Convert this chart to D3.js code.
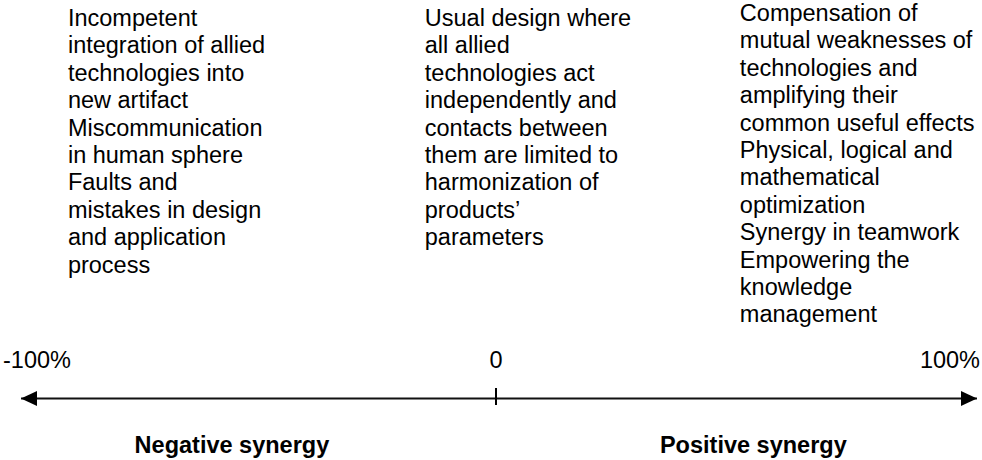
<!DOCTYPE html>
<html>
<head>
<meta charset="utf-8">
<script src="https://cdn.jsdelivr.net/npm/d3@7"></script>
<style>
  body { margin: 0; background: #fff; }
  text { font-family: "Liberation Sans", Arial, sans-serif; fill: #000; }
</style>
</head>
<body>
<div id="diagram"></div>
<script>
// synergy scale, percent
var tickValues = [-100, 0, 100]
var tickLabels = ["-100%", "0", "100%"]

var synergyLabels = ["Negative synergy", "Positive synergy"]
var synergyPos = [-54.9, 53.5]

var blockPos = [-89, -14.8, 50.7]
var blockTop = [26, 26, 21]
var blockLines = [
	["Incompetent", "integration of allied", "technologies into", "new artifact",
	 "Miscommunication", "in human sphere", "Faults and", "mistakes in design",
	 "and application", "process"],
	["Usual design where", "all allied", "technologies act", "independently and",
	 "contacts between", "them are limited to", "harmonization of", "products\u2019",
	 "parameters"],
	["Compensation of", "mutual weaknesses of", "technologies and", "amplifying their",
	 "common useful effects", "Physical, logical and", "mathematical", "optimization",
	 "Synergy in teamwork", "Empowering the", "knowledge", "management"]
]

var width = 982
var height = 460
var axisY = 398.5
var lineHeight = 27.4
var fontSize = "23.5px"

var svg = d3.select("#diagram").append("svg").attr("width", width).attr("height", height)

var x = d3.scaleLinear().domain([-100, 100]).range([15, 977])

// text blocks
blockLines.forEach(function(lines, i){
	var t = svg.append("text")
		.attr("x", x(blockPos[i]))
		.attr("y", blockTop[i])
		.style("font-size", fontSize)
	t.selectAll("tspan").data(lines).enter().append("tspan")
		.attr("x", x(blockPos[i]))
		.attr("dy", function(d, j){ return j == 0 ? 0 : lineHeight })
		.text(function(d){ return d })
})

// arrow heads
var defs = svg.append("defs")
defs.append("marker").attr("id", "arrowEnd")
	.attr("viewBox", "0 0 16 16").attr("refX", 16).attr("refY", 8)
	.attr("markerWidth", 16).attr("markerHeight", 16).attr("markerUnits", "userSpaceOnUse")
	.attr("orient", "auto")
	.append("path").attr("d", "M0,0.5L16,8L0,15.5Z").attr("fill", "#000")
defs.append("marker").attr("id", "arrowStart")
	.attr("viewBox", "0 0 16 16").attr("refX", 0).attr("refY", 8)
	.attr("markerWidth", 16).attr("markerHeight", 16).attr("markerUnits", "userSpaceOnUse")
	.attr("orient", "auto")
	.append("path").attr("d", "M16,0.5L0,8L16,15.5Z").attr("fill", "#000")

svg.append("line")
	.attr("x1", x(-100) + 6).attr("x2", x(100))
	.attr("y1", axisY).attr("y2", axisY)
	.attr("stroke", "#111").attr("stroke-width", 2)
	.attr("marker-start", "url(#arrowStart)")
	.attr("marker-end", "url(#arrowEnd)")

// zero tick
svg.append("line")
	.attr("x1", x(0)).attr("x2", x(0))
	.attr("y1", axisY - 10.5).attr("y2", axisY + 6.5)
	.attr("stroke", "#000").attr("stroke-width", 2)

// tick labels
svg.selectAll(".tickLabel").data(tickValues).enter().append("text")
	.attr("class", "tickLabel")
	.attr("x", function(d){ return d < 0 ? x(d) - 12 : d > 0 ? x(d) + 3 : x(d) })
	.attr("y", 368)
	.attr("text-anchor", function(d){ return d < 0 ? "start" : d > 0 ? "end" : "middle" })
	.style("font-size", fontSize)
	.text(function(d, i){ return tickLabels[i] })

// bottom labels
svg.selectAll(".synLabel").data(synergyLabels).enter().append("text")
	.attr("class", "synLabel")
	.attr("x", function(d, i){ return x(synergyPos[i]) })
	.attr("y", 453)
	.attr("text-anchor", "middle")
	.style("font-size", fontSize)
	.style("font-weight", "bold")
	.text(function(d){ return d })
</script>
</body>
</html>
